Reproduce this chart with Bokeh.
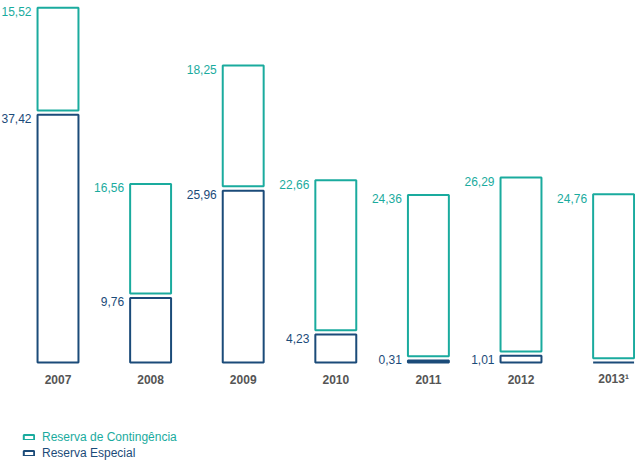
from bokeh.plotting import figure
from bokeh.models import Range1d, ColumnDataSource, Legend, LegendItem
from bokeh.embed import file_html
from bokeh.resources import INLINE
from bokeh.core.properties import value

# ---- data ----
years = ["2007", "2008", "2009", "2010", "2011", "2012", "2013"]
year_labels = ["2007", "2008", "2009", "2010", "2011", "2012", "2013\u00b9"]
contingencia = [15.52, 16.56, 18.25, 22.66, 24.36, 26.29, 24.76]
especial = [37.42, 9.76, 25.96, 4.23, 0.31, 1.01, 0.0]
series_names = ["Reserva de Contingência", "Reserva Especial"]

# ---- style ----
TEAL = "#1aab9e"
NAVY = "#1b4b79"
GREY = "#555555"
FONT = value("Liberation Sans")
GAP = 0.65
BAR_W = 0.442


def fmt(v):
    return f"{v:.2f}".replace(".", ",") if v > 0 else ""


idx = list(range(len(years)))
cont_bottom = [e + GAP for e in especial]
cont_top = [b + c for b, c in zip(cont_bottom, contingencia)]

src = ColumnDataSource(dict(
    x=idx,
    esp=especial,
    cb=cont_bottom,
    ct=cont_top,
    lx=[i - BAR_W / 2 for i in idx],
    esp_lab=[fmt(v) for v in especial],
    cont_lab=[fmt(v) for v in contingencia],
    esp_ly=[max(v, 1.0) for v in especial],
    year=year_labels,
    zero=[0] * len(years),
))

p = figure(width=635, height=470,
           x_range=Range1d(-0.6210, 6.2365), y_range=Range1d(-16.32, 54.69),
           output_backend="svg", toolbar_location=None,
           x_axis_location=None, y_axis_location=None,
           min_border=0, outline_line_color=None)
p.grid.grid_line_color = None
p.background_fill_color = "white"

r_esp = p.vbar(x="x", width=BAR_W, bottom=0, top="esp", source=src,
               fill_color="white", line_color=NAVY, line_width=2)
r_cont = p.vbar(x="x", width=BAR_W, bottom="cb", top="ct", source=src,
                fill_color="white", line_color=TEAL, line_width=2)

p.text(x="lx", y="ct", text="cont_lab", source=src, text_align="right",
       text_baseline="middle", x_offset=-6, y_offset=4, text_color=TEAL,
       text_font=FONT, text_font_size="12px")
p.text(x="lx", y="esp_ly", text="esp_lab", source=src, text_align="right",
       text_baseline="middle", x_offset=-6, y_offset=4, text_color=NAVY,
       text_font=FONT, text_font_size="12px")
p.text(x="x", y="zero", text="year", source=src, text_align="center",
       text_baseline="middle", y_offset=17, text_color=GREY,
       text_font=FONT, text_font_size="12px", text_font_style="bold")


def make_legend(name, renderer, color, loc):
    lg = Legend(items=[LegendItem(label=name, renderers=[renderer])],
                location=loc, glyph_width=13, glyph_height=6,
                label_height=12, label_standoff=7, padding=0, margin=0,
                spacing=0, border_line_color=None, background_fill_alpha=0,
                label_text_font="Liberation Sans", label_text_font_size="12px",
                label_text_color=color)
    p.add_layout(lg)


make_legend(series_names[0], r_cont, TEAL, (22, 26))
make_legend(series_names[1], r_esp, NAVY, (22, 10))

open("out.html", "w").write(file_html(p, INLINE))
